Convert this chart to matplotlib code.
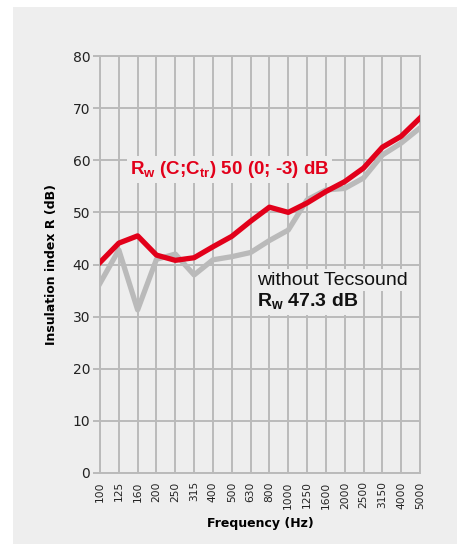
import matplotlib
matplotlib.use('Agg')
import matplotlib.pyplot as plt
from matplotlib.patches import Rectangle

# Sound insulation per third-octave band
freqs = ['100', '125', '160', '200', '250', '315', '400', '500', '630', '800',
         '1000', '1250', '1600', '2000', '2500', '3150', '4000', '5000']
with_tecsound = [40.4, 44.1, 45.5, 41.8, 40.8, 41.3, 43.4, 45.4, 48.3, 51.0,
                 50.0, 51.8, 54.0, 55.9, 58.5, 62.5, 64.6, 68.1]
without_tecsound = [36.4, 42.8, 31.3, 41.0, 42.0, 38.0, 40.9, 41.5, 42.3, 44.6,
                    46.6, 52.4, 54.3, 54.6, 56.6, 61.0, 63.3, 66.2]
y_ticks = [0, 10, 20, 30, 40, 50, 60, 70, 80]

RED = '#e2001a'
GRAY = '#bababa'
PANEL = '#eeeeee'
ANNOT = ['Liberation Sans', 'DejaVu Sans']

plt.rcParams['mathtext.fontset'] = 'custom'
plt.rcParams['mathtext.rm'] = 'Liberation Sans'
plt.rcParams['mathtext.bf'] = 'Liberation Sans:bold'

W, H = 463, 544
fig = plt.figure(figsize=(W / 100, H / 100), dpi=100)
fig.patch.set_facecolor('white')
fig.patches.append(Rectangle((13 / W, 0), (457 - 13) / W, (H - 7) / H,
                             transform=fig.transFigure, facecolor=PANEL,
                             edgecolor='none', zorder=-5))

ax = fig.add_axes([100 / W, 1 - 473 / H, 320 / W, (473 - 56) / H])
ax.set_facecolor('none')

x = list(range(len(freqs)))
ax.plot(x, without_tecsound, color=GRAY, linewidth=3.8, zorder=3)
ax.plot(x, with_tecsound, color=RED, linewidth=3.8, zorder=4)

ax.set_xlim(0, len(freqs) - 1)
ax.set_ylim(0, 80)
ax.set_xticks(x)
ax.set_xticklabels(freqs, rotation=90)
ax.set_yticks(y_ticks)

ax.grid(True, color=GRAY, linewidth=1.4, zorder=1)
ax.set_axisbelow(True)
for s in ax.spines.values():
    s.set_color(GRAY)
    s.set_linewidth(1.4)

ax.tick_params(axis='y', length=5, width=1.4, color=GRAY, labelsize=10,
               pad=2, labelcolor='#222222')
ax.tick_params(axis='x', length=0, labelsize=7.7, pad=6, labelcolor='#222222')

ax.set_xlabel('Frequency (Hz)', fontsize=9, fontweight='bold')
ax.xaxis.set_label_coords(0.5, -0.105)
ax.set_ylabel('Insulation index R (dB)', fontsize=9, fontweight='bold')
ax.yaxis.set_label_coords(-0.13, 0.5)

ax.text(1.6, 58.2, r'R$_\mathbf{w}$ (C;C$_\mathbf{tr}$) 50 (0; -3) dB',
        color=RED, fontsize=13.5, fontweight='bold', family=ANNOT,
        ha='left', va='center', zorder=5,
        bbox=dict(facecolor=PANEL, edgecolor='none', pad=2))
ax.text(8.34, 37.0, 'without Tecsound', color='#111111', fontsize=14,
        family=ANNOT, ha='left', va='center', zorder=5,
        bbox=dict(facecolor=PANEL, edgecolor='none', pad=2))
ax.text(8.34, 32.8, r'R$_\mathbf{w}$ 47.3 dB', color='#111111', fontsize=14,
        fontweight='bold', family=ANNOT, ha='left', va='center', zorder=5,
        bbox=dict(facecolor=PANEL, edgecolor='none', pad=2))

plt.savefig('out.png', dpi=100)
